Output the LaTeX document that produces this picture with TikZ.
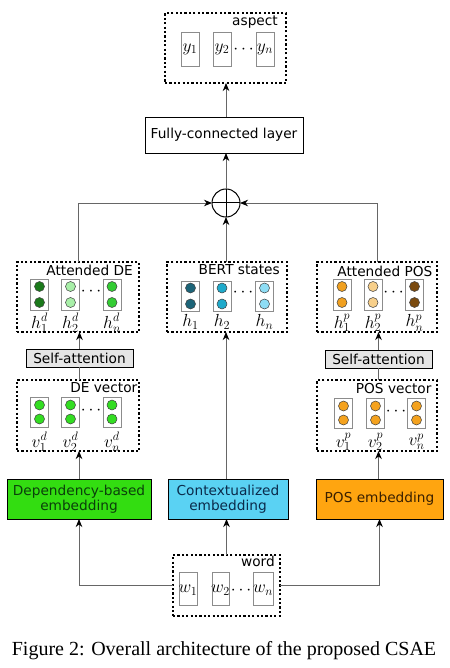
\RequirePackage{fix-cm}
\documentclass[tikz,border=0pt]{standalone}
\usepackage{fontspec}
\setsansfont{DejaVu Sans}
\newfontfamily\capfont{Liberation Serif}
\usetikzlibrary{arrows.meta}
\definecolor{depfill}{HTML}{33DD11}
\definecolor{deptext}{HTML}{0B3F0B}
\definecolor{ctxfill}{HTML}{5AD2F3}
\definecolor{ctxtext}{HTML}{0B2B4B}
\definecolor{posfill}{HTML}{FFA510}
\definecolor{postext}{HTML}{3A2000}
\definecolor{gA}{HTML}{1B7A1B}
\definecolor{gB}{HTML}{A8EFA8}
\definecolor{gC}{HTML}{33CC33}
\definecolor{gV}{HTML}{33DD22}
\definecolor{bA}{HTML}{1C6478}
\definecolor{bB}{HTML}{1FAACB}
\definecolor{bC}{HTML}{8EDDF5}
\definecolor{oA}{HTML}{F0A020}
\definecolor{oB}{HTML}{F7CF8A}
\definecolor{oC}{HTML}{7A4A0F}
\definecolor{oV}{HTML}{F4A21E}
\newcommand{\sansfs}{\sffamily\fontsize{13.7}{15.5}\selectfont}
\newcommand{\mathfs}{\fontsize{17.5}{20}\selectfont}
\begin{document}
\begin{tikzpicture}[x=1pt,y=-1pt,
  dotbox/.style={draw=black, line width=2.2pt, dash pattern=on 2.2pt off 2.2pt, inner sep=0pt, outer sep=0pt},
  cellbox/.style={draw=black!45, line width=0.8pt, minimum width=18pt, inner sep=0pt, outer sep=0pt},
  ball/.style={circle, draw=black!75, line width=0.5pt, minimum size=10pt, inner sep=0pt},
  plainbox/.style={draw=black, line width=0.8pt, inner sep=0pt, outer sep=0pt, font=\sansfs},
  emb/.style={draw=black, line width=1pt, inner sep=0pt, outer sep=0pt, align=center, font=\sansfs},
  boxlabel/.style={anchor=base east, inner sep=0pt, font=\sansfs},
  mlabel/.style={inner sep=0pt, font=\mathfs},
  conn/.style={draw=black!60, line width=0.9pt},
  arr/.style={-{Stealth[length=8pt,width=6.5pt,inset=2.5pt,black]}}
]
\useasboundingbox (0,0) rectangle (449,668);

% ---------- aspect ----------
\node[dotbox, minimum width=121pt, minimum height=70pt] (aspect) at (225.5,48) {};
\node[boxlabel] (aspectlbl) at (278,26) {aspect};
\node[cellbox, minimum height=34pt] (y1) at (190,49) {};
\node[cellbox, minimum height=34pt] (y2) at (222,49) {};
\node[cellbox, minimum height=34pt] (yn) at (265,49) {};
\node[mlabel] (y1l) at (190,49) {$y_1$};
\node[mlabel] (y2l) at (222,49) {$y_2$};
\node[mlabel] (ynl) at (265,49) {$y_n$};
\node[mlabel] (ydots) at (243.5,50) {$\cdots$};

% ---------- FC ----------
\node[plainbox, minimum width=158pt, minimum height=36pt] (fc) at (224,135) {Fully-connected layer};

% ---------- oplus ----------
\node[circle, draw=black, line width=1pt, minimum size=28pt, inner sep=0pt, outer sep=0pt] (oplus) at (226,203) {};
\draw[black, line width=1pt] (oplus.north) -- (oplus.south) (oplus.west) -- (oplus.east);

% ---------- Attended DE ----------
\node[dotbox, minimum width=122pt, minimum height=70pt] (attde) at (78,297) {};
\node[boxlabel] (attdelbl) at (133,275.5) {Attended DE};
\foreach \i/\x/\c/\l in {1/39.5/gA/{h^d_1},2/70.5/gB/{h^d_2},3/112/gC/{h^d_n}}{
  \node[cellbox, minimum height=31pt] (ad\i) at (\x,294.5) {};
  \node[ball, fill=\c] (ad\i a) at (\x,286.5) {};
  \node[ball, fill=\c] (ad\i b) at (\x,302.5) {};
  \node[mlabel] (ad\i l) at (\x,323) {$\l$};
}
\node[mlabel] (addots) at (91,292) {$\cdots$};

% ---------- BERT states ----------
\node[dotbox, minimum width=120pt, minimum height=70pt] (bert) at (227,297) {};
\node[boxlabel] (bertlbl) at (280,274) {BERT states};
\foreach \i/\x/\c/\l in {1/190.5/bA/{h_1},2/222/bB/{h_2},3/264.5/bC/{h_n}}{
  \node[cellbox, minimum height=30pt] (bs\i) at (\x,296) {};
  \node[ball, fill=\c] (bs\i a) at (\x,288) {};
  \node[ball, fill=\c] (bs\i b) at (\x,304) {};
  \node[mlabel] (bs\i l) at (\x,322) {$\l$};
}
\node[mlabel] (bsdots) at (243,293) {$\cdots$};

% ---------- Attended POS ----------
\node[dotbox, minimum width=120pt, minimum height=70pt] (attpos) at (377,297) {};
\node[boxlabel] (attposlbl) at (432.5,276.5) {Attended POS};
\foreach \i/\x/\c/\l in {1/342/oA/{h^p_1},2/373/oB/{h^p_2},3/414.5/oC/{h^p_n}}{
  \node[cellbox, minimum height=31pt] (ap\i) at (\x,294.5) {};
  \node[ball, fill=\c] (ap\i a) at (\x,286.5) {};
  \node[ball, fill=\c] (ap\i b) at (\x,302.5) {};
  \node[mlabel] (ap\i l) at (\x,323) {$\l$};
}
\node[mlabel] (apdots) at (393.5,293) {$\cdots$};

% ---------- Self-attention ----------
\node[plainbox, fill=black!10, minimum width=107pt, minimum height=18pt] (sal) at (79.5,358) {Self-attention};
\node[plainbox, fill=black!10, minimum width=107pt, minimum height=18pt] (sar) at (378.5,359) {Self-attention};

% ---------- DE vector ----------
\node[dotbox, minimum width=122pt, minimum height=71pt] (devec) at (78,415.5) {};
\node[boxlabel] (deveclbl) at (137.5,392.7) {DE vector};
\foreach \i/\x/\l in {1/39.5/{v^d_1},2/70.5/{v^d_2},3/112/{v^d_n}}{
  \node[cellbox, minimum height=30pt] (dv\i) at (\x,412) {};
  \node[ball, fill=gV] (dv\i a) at (\x,405) {};
  \node[ball, fill=gV] (dv\i b) at (\x,419) {};
  \node[mlabel] (dv\i l) at (\x,442) {$\l$};
}
\node[mlabel] (dvdots) at (91,411) {$\cdots$};

% ---------- POS vector ----------
\node[dotbox, minimum width=120pt, minimum height=71pt] (posvec) at (377,415.5) {};
\node[boxlabel] (posveclbl) at (431.7,393) {POS vector};
\foreach \i/\x/\l in {1/343.5/{v^p_1},2/375.5/{v^p_2},3/416.5/{v^p_n}}{
  \node[cellbox, minimum height=30pt] (pv\i) at (\x,413) {};
  \node[ball, fill=oV] (pv\i a) at (\x,406) {};
  \node[ball, fill=oV] (pv\i b) at (\x,420) {};
  \node[mlabel] (pv\i l) at (\x,442) {$\l$};
}
\node[mlabel] (pvdots) at (396,412) {$\cdots$};

% ---------- embeddings ----------
\node[emb, fill=depfill, text=deptext, minimum width=144pt, minimum height=40pt] (dep) at (79,499) {Dependency-based\\embedding};
\node[emb, fill=ctxfill, text=ctxtext, minimum width=120pt, minimum height=40pt] (ctx) at (228,499) {Contextualized\\embedding};
\node[emb, fill=posfill, text=postext, minimum width=127pt, minimum height=40pt] (posemb) at (379.5,499) {POS embedding};

% ---------- word ----------
\node[dotbox, minimum width=107pt, minimum height=61pt] (word) at (226.5,585.5) {};
\node[boxlabel] (wordlbl) at (275,566.7) {word};
\node[cellbox, minimum height=33pt] (w1) at (188,588.5) {};
\node[cellbox, minimum height=33pt, minimum width=17pt] (w2) at (220.5,588.5) {};
\node[cellbox, minimum height=33pt, minimum width=20pt] (wn) at (263,588.5) {};
\node[mlabel] (w1l) at (188,590) {$w_1$};
\node[mlabel] (w2l) at (220.5,590) {$w_2$};
\node[mlabel] (wnl) at (263,590) {$w_n$};
\node[mlabel] (wdots) at (241,591) {$\cdots$};

% ---------- connectors ----------
\draw[conn, arr] (word.west) -| (dep.south);
\draw[conn, arr] (word.east) -| (posemb.south);
\draw[conn, arr] (word.north) -- (word.north |- ctx.south);
\draw[conn, arr] (dep.north) -- (dep.north |- devec.south);
\draw[conn] (devec.north -| sal.south) -- (sal.south);
\draw[conn, arr] (sal.north) -- (sal.north |- attde.south);
\draw[conn, arr] (posemb.north -| sar.south) -- (sar.south |- posvec.south);
\draw[conn] (posvec.north -| sar.south) -- (sar.south);
\draw[conn, arr] (sar.north) -- (sar.north |- attpos.south);
\draw[conn, arr] (ctx.north -| oplus.south) -- (oplus.south |- bert.south);
\draw[conn, arr] (bert.north -| oplus.south) -- (oplus.south);
\draw[conn, arr] (attde.north) |- (oplus.west);
\draw[conn, arr] (attpos.north) |- (oplus.east);
\draw[conn, arr] (oplus.north) -- (oplus.north |- fc.south);
\draw[conn, arr] (fc.north -| oplus.north) -- (oplus.north |- aspect.south);

% ---------- caption ----------
\node[anchor=base, inner sep=0pt, font=\capfont\fontsize{20}{23}\selectfont] (caption) at (224,655) {Figure 2: Overall architecture of the proposed CSAE};
\end{tikzpicture}
\end{document}
